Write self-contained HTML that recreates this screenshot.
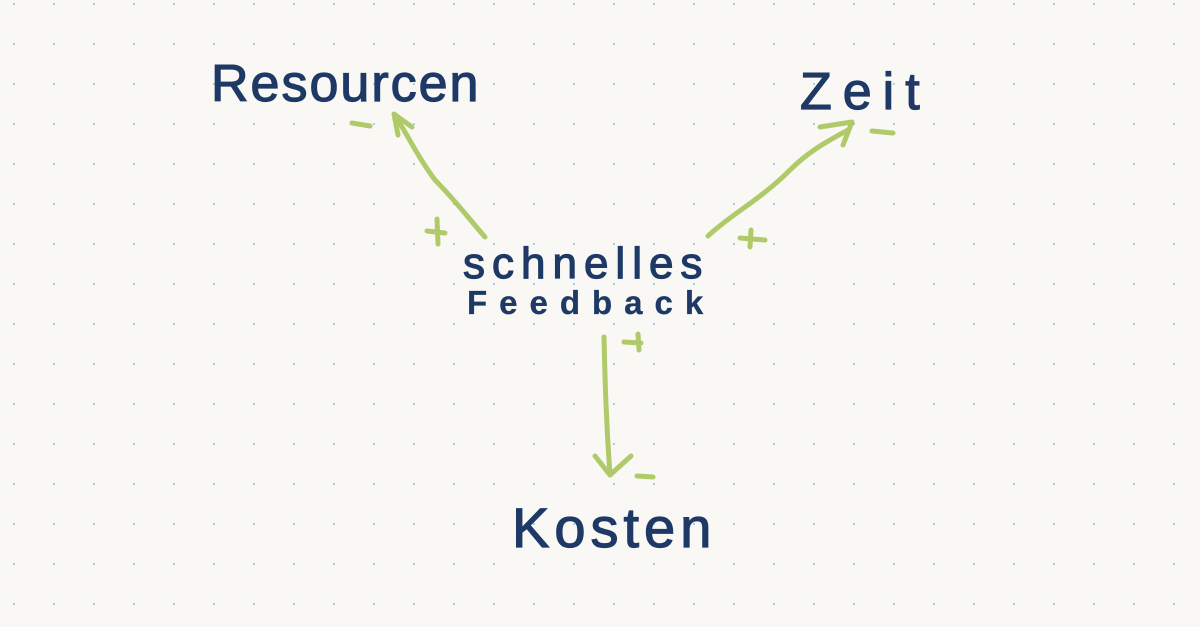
<!DOCTYPE html>
<html><head><meta charset="utf-8"><style>
html,body{margin:0;padding:0}
body{width:1200px;height:627px;overflow:hidden;position:relative;
background-color:#f9f8f5;font-family:"Liberation Sans",sans-serif;color:#1f3966}
.dots{position:absolute;left:0;top:0;width:1200px;height:627px;
background-image:linear-gradient(to right,#9ed3ea 2px,transparent 2px);
background-size:40px 40px;background-position:13px 0;
-webkit-mask-image:linear-gradient(to bottom,#000 2px,transparent 2px);
-webkit-mask-size:40px 40px;-webkit-mask-position:0 3px;
mask-image:linear-gradient(to bottom,#000 2px,transparent 2px);
mask-size:40px 40px;mask-position:0 3px}
.t{position:absolute;white-space:nowrap;line-height:1;-webkit-text-stroke:1.2px #1f3966}
svg{position:absolute;left:0;top:0}
</style></head><body>
<div class="dots"></div>
<div class="t" style="left:211px;top:58px;font-size:52px;letter-spacing:2px">Resourcen</div>
<div class="t" style="left:800px;top:66px;font-size:52px;letter-spacing:11px">Zeit</div>
<div class="t" style="left:463px;top:242px;font-size:44px;letter-spacing:7px">schnelles</div>
<div class="t" style="left:467px;top:286px;font-size:33px;letter-spacing:12px;font-weight:bold;-webkit-text-stroke:0.3px #1f3966">Feedback</div>
<div class="t" style="left:512px;top:500px;font-size:56px;letter-spacing:5px">Kosten</div>
<svg width="1200" height="627" fill="none" stroke="#a9c45a" stroke-width="5" stroke-linecap="round" stroke-linejoin="round" opacity="0.9">
<path d="M485 237 C470 220 455 200 435 180 C420 160 410 140 395 115"/>
<path d="M398 135 L394 114 L412 127"/>
<path d="M352 123 L370 126"/>
<path d="M427 231 L445 233 M437 219 L438 244"/>
<path d="M708 236 C730 215 760 200 790 170 C810 150 830 140 848 130"/>
<path d="M820 127 L852 122 L843 145"/>
<path d="M872 131 L893 133"/>
<path d="M740 238 L765 240 M751 230 L750 247"/>
<path d="M604 337 C605 380 606 420 610 475"/>
<path d="M595 456 L610 475 L631 456"/>
<path d="M624 342 L641 343 M638 334 L639 350"/>
<path d="M637 476 L653 477"/>
</svg>
</body></html>
